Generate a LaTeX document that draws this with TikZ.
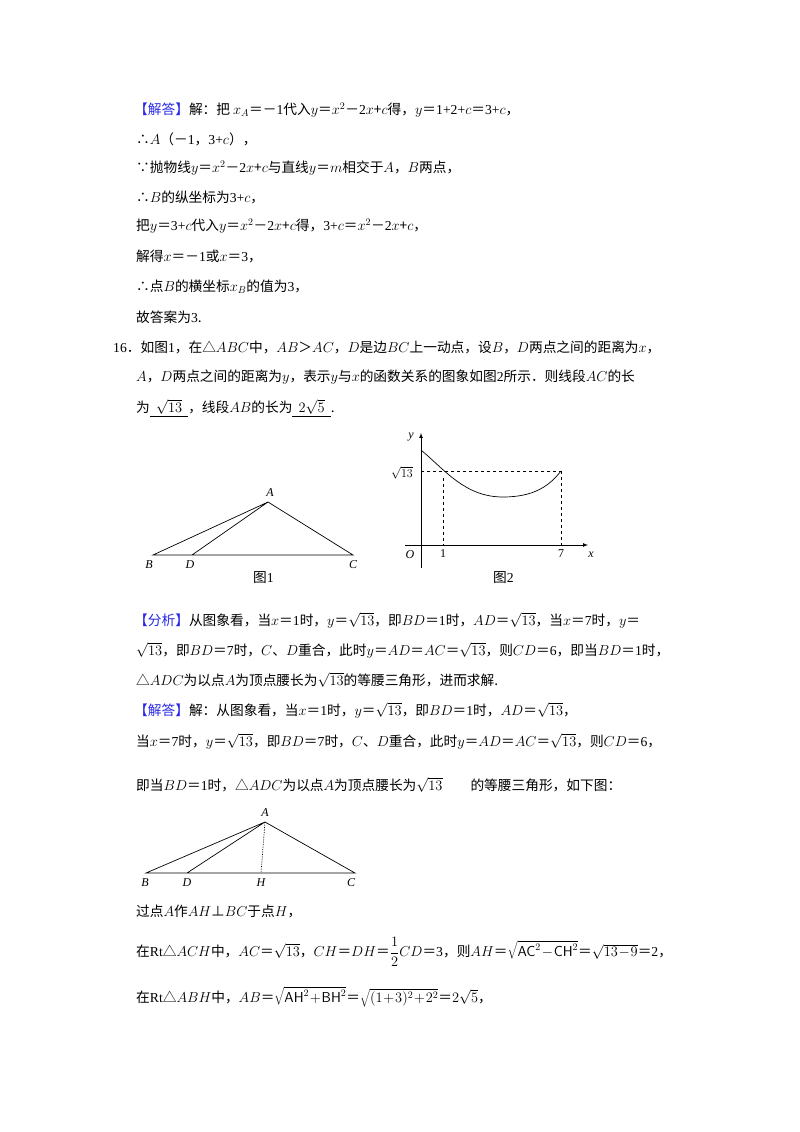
\documentclass[tikz,border=0pt]{standalone}
\usepackage[no-math]{fontspec}
\setmainfont{Noto Sans CJK SC}
\newfontfamily\lat{Liberation Serif}
\newcommand\nn[1]{{\lat #1}}
\definecolor{hb}{RGB}{40,40,230}
\begin{document}
\begin{tikzpicture}[x=1pt,y=-1pt,
  tl/.style={anchor=west,inner sep=0pt,font=\fontsize{13.7}{15}\selectfont},
  lb/.style={inner sep=0pt,font=\lat\itshape\fontsize{12}{14}\selectfont},
  ln/.style={line width=0.7pt}]
\useasboundingbox[fill=white] (0,0) rectangle (800,1132);
\node[tl] (t1) at (134,110) {{\color{hb}【解答】}解：把 $x_A$＝－\nn{1}代入$y$＝$x^2$－\nn{2}$x$+$c$得，$y$＝\nn{1+2+}$c$＝\nn{3+}$c$，};
\node[tl] (t2) at (136,139) {∴$A$（－\nn{1}，\nn{3+}$c$），};
\node[tl] (t3) at (136,168) {∵抛物线$y$＝$x^2$－\nn{2}$x$+$c$与直线$y$＝$m$相交于$A$，$B$两点，};
\node[tl] (t4) at (136,197) {∴$B$的纵坐标为\nn{3+}$c$，};
\node[tl] (t5) at (136,226) {把$y$＝\nn{3+}$c$代入$y$＝$x^2$－\nn{2}$x$+$c$得，\nn{3+}$c$＝$x^2$－\nn{2}$x$+$c$，};
\node[tl] (t6) at (136,256) {解得$x$＝－\nn{1}或$x$＝\nn{3}，};
\node[tl] (t7) at (136,287) {∴点$B$的横坐标$x_B$的值为\nn{3}，};
\node[tl] (t8) at (136,317) {故答案为\nn{3}.};
\node[tl] (t9) at (113,347) {\nn{16}．如图\nn{1}，在△$ABC$中，$AB$＞$AC$，$D$是边$BC$上一动点，设$B$，$D$两点之间的距离为$x$，};
\node[tl] (t10) at (136,377) {$A$，$D$两点之间的距离为$y$，表示$y$与$x$的函数关系的图象如图\nn{2}所示．则线段$AC$的长};
\node[tl] (t11) at (136,408) {为\underline{\ \ $\sqrt{13}$\ \ }，线段$AB$的长为\underline{\ \ $2\sqrt{5}$\ \ }.};
% figure 1
\coordinate (A1) at (268,502); \coordinate (B1) at (153,555);
\coordinate (D1) at (192,555); \coordinate (C1) at (353,555);
\draw[ln] (B1)--(A1)--(C1)--cycle (D1)--(A1);
\node[lb] (lA1) at (270,493) {A};
\node[lb] (lB1) at (149,565) {B};
\node[lb] (lD1) at (190,565) {D};
\node[lb] (lC1) at (353,565) {C};
\node[tl] (f1) at (253,578) {图\nn{1}};
% figure 2
\coordinate (Ot) at (421,568); \coordinate (Yt) at (421,433);
\coordinate (Xl) at (405,545); \coordinate (Xr) at (588,545);
\draw[ln,-latex] (Ot)--(Yt);
\draw[ln,-latex] (Xl)--(Xr);
\draw[ln,dashed] (421,471)--(561,471);
\draw[ln,dashed] (443,478)--(443,545);
\draw[ln,dashed] (561,471)--(561,545);
\draw[ln] (421,450) .. controls (445,470) and (465,497) .. (503,497) .. controls (535,497) and (550,485) .. (561,471);
\node[lb] (ly) at (411,437) {y};
\node[lb] (lx) at (591,555) {x};
\node[lb] (lO) at (410,555) {O};
\node[inner sep=0pt,font=\lat\fontsize{12}{14}\selectfont] (l1) at (443,554) {1};
\node[inner sep=0pt,font=\lat\fontsize{12}{14}\selectfont] (l7) at (561,554) {7};
\node[inner sep=0pt,font=\fontsize{12}{13}\selectfont] (ls) at (402,473) {$\sqrt{13}$};
\node[tl] (f2) at (493,578) {图\nn{2}};
% analysis
\node[tl] (a1) at (134,620) {{\color{hb}【分析】}从图象看，当$x$＝\nn{1}时，$y$＝$\sqrt{13}$，即$BD$＝\nn{1}时，$AD$＝$\sqrt{13}$，当$x$＝\nn{7}时，$y$＝};
\node[tl] (a2) at (136,650) {$\sqrt{13}$，即$BD$＝\nn{7}时，$C$、$D$重合，此时$y$＝$AD$＝$AC$＝$\sqrt{13}$，则$CD$＝\nn{6}，即当$BD$＝\nn{1}时，};
\node[tl] (a3) at (136,680) {△$ADC$为以点$A$为顶点腰长为$\sqrt{13}$的等腰三角形，进而求解.};
\node[tl] (b1) at (134,710) {{\color{hb}【解答】}解：从图象看，当$x$＝\nn{1}时，$y$＝$\sqrt{13}$，即$BD$＝\nn{1}时，$AD$＝$\sqrt{13}$，};
\node[tl] (b2) at (136,741) {当$x$＝\nn{7}时，$y$＝$\sqrt{13}$，即$BD$＝\nn{7}时，$C$、$D$重合，此时$y$＝$AD$＝$AC$＝$\sqrt{13}$，则$CD$＝\nn{6}，};
\node[tl] (b3) at (136,785) {即当$BD$＝\nn{1}时，△$ADC$为以点$A$为顶点腰长为$\sqrt{13}$\hspace{28pt}的等腰三角形，如下图：};
% figure 3
\coordinate (A3) at (265,822); \coordinate (B3) at (146,873);
\coordinate (D3) at (187,873); \coordinate (H3) at (261,873); \coordinate (C3) at (355,873);
\draw[ln] (B3)--(A3)--(C3)--cycle (D3)--(A3);
\draw[ln,densely dotted] (A3)--(H3);
\node[lb] (lA3) at (265,813) {A};
\node[lb] (lB3) at (145,883) {B};
\node[lb] (lD3) at (187,883) {D};
\node[lb] (lH3) at (261,883) {H};
\node[lb] (lC3) at (351,883) {C};
\node[tl] (c1) at (136,911) {过点$A$作$AH$⊥$BC$于点$H$，};
\node[tl] (c2) at (136,952) {在\nn{Rt}△$ACH$中，$AC$＝$\sqrt{13}$，$CH$＝$DH$＝$\displaystyle\frac12CD$＝\nn{3}，则$AH$＝$\sqrt{\mathsf{AC}^2\!-\!\mathsf{CH}^2}$＝$\sqrt{13\!-\!9}$＝\nn{2}，};
\node[tl] (c3) at (136,997) {在\nn{Rt}△$ABH$中，$AB$＝$\sqrt{\mathsf{AH}^2\!+\!\mathsf{BH}^2}$＝$\sqrt{(1\!+\!3)^2\!+\!2^2}$＝$2\sqrt5$，};
\end{tikzpicture}
\end{document}
